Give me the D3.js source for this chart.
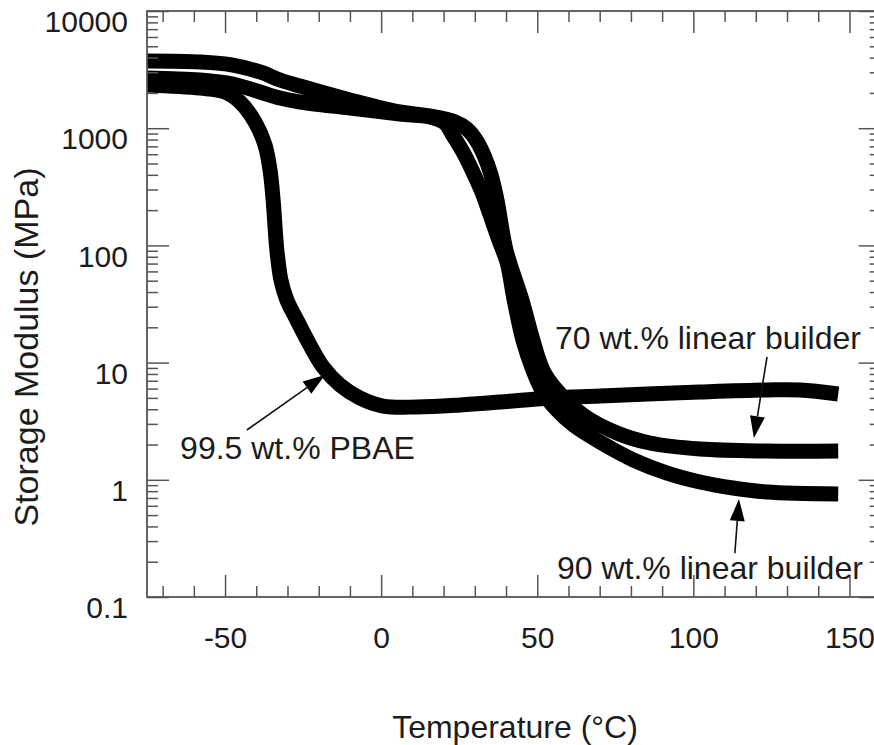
<!DOCTYPE html>
<html><head><meta charset="utf-8">
<script src="https://cdn.jsdelivr.net/npm/d3@7"></script>
<style>
body{margin:0;background:#fff;}
text{font-family:"Liberation Sans",Arial,Helvetica,sans-serif;fill:#1c1c1c;}
</style>
</head><body>
<svg id="chart" width="874" height="745"></svg>
<script>
// ---- data (Temperature in °C, Storage modulus in MPa) ----
const pbaeTemp = [-75, -58, -50, -45.2, -40.4, -37.2, -35.6, -34.6, -33.4, -32.1, -30.2, -27, -22.8, -18.6, -13.2, -6.8, 0.6, 11.5, 25.3, 38.1, 54.1, 70.1, 102.1, 123.6, 134.2, 146.4];
const pbaeMod  = [2340, 2200, 2036, 1673, 1130, 719, 440, 244, 91, 50.7, 34.2, 23.1, 14.1, 9.17, 6.44, 4.99, 4.26, 4.18, 4.35, 4.61, 4.99, 5.19, 5.61, 5.84, 5.84, 5.40];

const b70Temp = [-75, -58, -47.5, -38.8, -32.4, -26, -10, 6, 15.6, 23.7, 27.5, 30.4, 32.9, 35.2, 37.1, 40.0, 45.1, 48.6, 51.8, 55.7, 64.7, 75.5, 86.1, 102.1, 123.6, 146.4];
const b70Mod  = [3743, 3670, 3460, 3017, 2578, 2290, 1741, 1375, 1271, 1130, 984, 793, 590, 399, 244, 91, 34.2, 15.6, 8.65, 6.07, 3.57, 2.51, 2.06, 1.83, 1.76, 1.76];

const b90Temp = [-75, -58, -47.5, -38.8, -32.4, -26, -10, 6, 15.6, 20.4, 22.9, 26.2, 29.1, 32.0, 34.9, 37.7, 40.3, 42.6, 45.4, 48.6, 51.8, 56.3, 61.5, 70.1, 80.7, 91.6, 102.1, 112.7, 123.6, 146.4];
const b90Mod  = [2680, 2578, 2383, 2036, 1810, 1673, 1487, 1322, 1247, 1108, 875, 627, 440, 297, 182, 111, 72, 34.2, 15.6, 8.65, 5.61, 3.94, 2.94, 2.10, 1.48, 1.14, 0.958, 0.851, 0.787, 0.757];

const xMajorTicks = [-50, 0, 50, 100, 150];
const xTickLabels = ["-50", "0", "50", "100", "150"];
const yMajorTicks = [0.1, 1, 10, 100, 1000, 10000];
const yTickLabels = ["0.1", "1", "10", "100", "1000", "10000"];

const labels = [
  {text: "99.5 wt.% PBAE", T: -64.4, E: 1.50, fromT: -43.0, fromE: 2.66, toT: -18.0, toE: 7.84},
  {text: "70 wt.% linear builder", T: 55.7, E: 13.1, fromT: 123.6, fromE: 11.2, toT: 119.4, toE: 2.27},
  {text: "90 wt.% linear builder", T: 56.3, E: 0.1425, fromT: 113.3, fromE: 0.237, toT: 114.6, toE: 0.686}
];

// ---- layout ----
const plotLeft = 147, plotTop = 11, plotH = 586;
const xDomain = [-75, 160];
const pxPerDeg = 3.122;
const x = d3.scaleLinear().domain(xDomain).range([plotLeft, plotLeft + (xDomain[1]-xDomain[0]) * pxPerDeg]);
const y = d3.scaleLog().domain([0.1, 10000]).range([plotTop + plotH, plotTop]);
const xR = x.range(), yR = y.range();

const svg = d3.select("#chart");
svg.append("rect").attr("width", 874).attr("height", 745).attr("fill", "#fff");

svg.append("clipPath").attr("id", "plotclip").append("rect")
  .attr("x", xR[0]).attr("y", yR[1]).attr("width", xR[1]-xR[0]).attr("height", yR[0]-yR[1]);

// ---- curves ----
const line = d3.line().x(d => x(d[0])).y(d => y(d[1])).curve(d3.curveCatmullRom.alpha(0.5));
const series = [
  d3.zip(pbaeTemp, pbaeMod),
  d3.zip(b70Temp, b70Mod),
  d3.zip(b90Temp, b90Mod)
];
const gCurves = svg.append("g").attr("clip-path", "url(#plotclip)");
gCurves.selectAll("path").data(series).join("path")
  .attr("d", line)
  .attr("fill", "none")
  .attr("stroke", "#000")
  .attr("stroke-width", 15)
  .attr("stroke-linejoin", "round")
  .attr("stroke-linecap", "butt");

// ---- axes ----
const axisColor = "#555";
const xMinor = d3.range(-70, 161, 10).filter(v => v % 50 !== 0);
const yMinor = [];
for (let p = -1; p < 4; p++) for (let m = 2; m <= 9; m++) yMinor.push(m * Math.pow(10, p));

function styleAxis(g) {
  g.select(".domain").remove();
  g.selectAll("line").attr("stroke", axisColor).attr("stroke-width", 1.5);
}

// bottom
svg.append("g").attr("transform", `translate(0,${yR[0]})`)
  .call(d3.axisBottom(x).tickValues(xMajorTicks).tickFormat((d, i) => xTickLabels[i]).tickSizeInner(-22).tickSizeOuter(0).tickPadding(30))
  .call(styleAxis)
  .call(g => g.selectAll("text").attr("font-size", 30).attr("fill", "#1c1c1c").attr("font-family", "Liberation Sans, Arial, sans-serif"));
svg.append("g").attr("transform", `translate(0,${yR[0]})`)
  .call(d3.axisBottom(x).tickValues(xMinor).tickFormat("").tickSizeInner(-11).tickSizeOuter(0))
  .call(styleAxis);
// top
svg.append("g").attr("transform", `translate(0,${yR[1]})`)
  .call(d3.axisTop(x).tickValues(xMajorTicks).tickFormat("").tickSizeInner(-22).tickSizeOuter(0))
  .call(styleAxis);
svg.append("g").attr("transform", `translate(0,${yR[1]})`)
  .call(d3.axisTop(x).tickValues(xMinor).tickFormat("").tickSizeInner(-11).tickSizeOuter(0))
  .call(styleAxis);
// left
svg.append("g").attr("transform", `translate(${xR[0]},0)`)
  .call(d3.axisLeft(y).tickValues(yMajorTicks).tickFormat((d, i) => yTickLabels[i]).tickSizeInner(-22).tickSizeOuter(0).tickPadding(19))
  .call(styleAxis)
  .call(g => g.selectAll("text").attr("font-size", 30).attr("fill", "#1c1c1c").attr("y", 11).attr("font-family", "Liberation Sans, Arial, sans-serif"));
svg.append("g").attr("transform", `translate(${xR[0]},0)`)
  .call(d3.axisLeft(y).tickValues(yMinor).tickFormat("").tickSizeInner(-11).tickSizeOuter(0))
  .call(styleAxis);
// right
svg.append("g").attr("transform", `translate(${xR[1]},0)`)
  .call(d3.axisRight(y).tickValues(yMajorTicks).tickFormat("").tickSizeInner(-22).tickSizeOuter(0))
  .call(styleAxis);
svg.append("g").attr("transform", `translate(${xR[1]},0)`)
  .call(d3.axisRight(y).tickValues(yMinor).tickFormat("").tickSizeInner(-11).tickSizeOuter(0))
  .call(styleAxis);

// frame
svg.append("rect")
  .attr("x", xR[0]).attr("y", yR[1]).attr("width", xR[1]-xR[0]).attr("height", yR[0]-yR[1])
  .attr("fill", "none").attr("stroke", axisColor).attr("stroke-width", 1.8);

// ---- axis titles ----
svg.append("text")
  .attr("x", 515).attr("y", 738)
  .attr("text-anchor", "middle").attr("font-size", 32)
  .text("Temperature (°C)");
svg.append("text")
  .attr("transform", "translate(38,347) rotate(-90)")
  .attr("text-anchor", "middle").attr("font-size", 34)
  .text("Storage Modulus (MPa)");

// ---- annotations ----
const headLen = 22, headW = 15;
labels.forEach(a => {
  svg.append("text").attr("x", x(a.T)).attr("y", y(a.E)).attr("font-size", 32).text(a.text);
  const x1 = x(a.fromT), y1 = y(a.fromE), x2 = x(a.toT), y2 = y(a.toE);
  const ang = Math.atan2(y2 - y1, x2 - x1);
  const bx = x2 - headLen * Math.cos(ang), by = y2 - headLen * Math.sin(ang);
  svg.append("line").attr("x1", x1).attr("y1", y1).attr("x2", bx).attr("y2", by)
    .attr("stroke", "#111").attr("stroke-width", 1.6);
  const px = -Math.sin(ang) * headW / 2, py = Math.cos(ang) * headW / 2;
  svg.append("path")
    .attr("d", `M${x2},${y2}L${bx + px},${by + py}L${bx - px},${by - py}Z`)
    .attr("fill", "#000");
});
</script>
</body></html>
